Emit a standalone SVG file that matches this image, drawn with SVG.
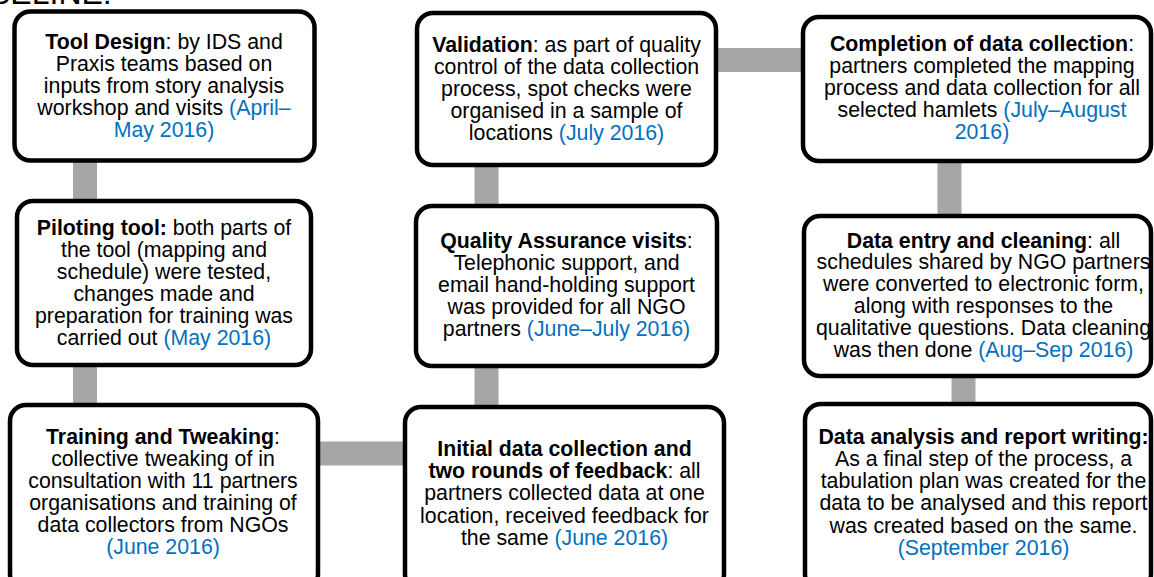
<svg xmlns="http://www.w3.org/2000/svg" width="1154" height="577" viewBox="0 0 1154 577">
<style>
.box{fill:#fff;stroke:#000;stroke-width:4.5}
.conn{stroke:#a6a6a6;stroke-width:24;fill:none}
text{font-family:"Liberation Sans",Arial,sans-serif;font-size:21.3px;fill:#000;text-anchor:middle}
.b{font-weight:bold}
.d{fill:#0070c0}
</style>
<rect width="1154" height="577" fill="#fff"/>
<text x="-11" y="4" style="font-size:32px;text-anchor:start">SELINE:</text>
<g id="connectors">
<line class="conn" x1="85" y1="160" x2="85" y2="202"/>
<line class="conn" x1="85" y1="364" x2="85" y2="406"/>
<line class="conn" x1="317" y1="453.5" x2="406" y2="453.5"/>
<line class="conn" x1="486.5" y1="164" x2="486.5" y2="408"/>
<line class="conn" x1="715" y1="60" x2="804" y2="60"/>
<line class="conn" x1="949.5" y1="160" x2="949.5" y2="217"/>
<line class="conn" x1="963.5" y1="375" x2="963.5" y2="405"/>
</g>
<g id="n1">
<rect class="box" x="14.5" y="11.5" width="300" height="149" rx="16"/>
<text x="164" y="49"><tspan class="b">Tool Design</tspan>: by IDS and<tspan x="164" dy="22">Praxis teams based on</tspan><tspan x="164" dy="22">inputs from story analysis</tspan><tspan x="164" dy="22">workshop and visits <tspan class="d">(April–</tspan></tspan><tspan x="164" dy="22" class="d">May 2016)</tspan></text>
</g>
<g id="n2">
<rect class="box" x="17" y="201" width="294" height="164" rx="16"/>
<text x="164" y="235"><tspan class="b">Piloting tool:</tspan> both parts of<tspan x="164" dy="22">the tool (mapping and</tspan><tspan x="164" dy="22">schedule) were tested,</tspan><tspan x="164" dy="22">changes made and</tspan><tspan x="164" dy="22">preparation for training was</tspan><tspan x="164" dy="22">carried out <tspan class="d">(May 2016)</tspan></tspan></text>
</g>
<g id="n3">
<rect class="box" x="10" y="405" width="308" height="185" rx="16"/>
<text x="163" y="444"><tspan class="b">Training and Tweaking</tspan>:<tspan x="163" dy="22">collective tweaking of in</tspan><tspan x="163" dy="22">consultation with 11 partners</tspan><tspan x="163" dy="22">organisations and training of</tspan><tspan x="163" dy="22">data collectors from NGOs</tspan><tspan x="163" dy="22" class="d">(June 2016)</tspan></text>
</g>
<g id="n4">
<rect class="box" x="417" y="13" width="299" height="152" rx="16"/>
<text x="566.5" y="51.5"><tspan class="b">Validation</tspan>: as part of quality<tspan x="566.5" dy="22">control of the data collection</tspan><tspan x="566.5" dy="22">process, spot checks were</tspan><tspan x="566.5" dy="22">organised in a sample of</tspan><tspan x="566.5" dy="22">locations <tspan class="d">(July 2016)</tspan></tspan></text>
</g>
<g id="n5">
<rect class="box" x="416" y="206" width="301" height="160" rx="16"/>
<text x="566.5" y="248"><tspan class="b">Quality Assurance visits</tspan>:<tspan x="566.5" dy="22">Telephonic support, and</tspan><tspan x="566.5" dy="22">email hand-holding support</tspan><tspan x="566.5" dy="22">was provided for all NGO</tspan><tspan x="566.5" dy="22">partners <tspan class="d">(June–July 2016)</tspan></tspan></text>
</g>
<g id="n6">
<rect class="box" x="405" y="407" width="319" height="183" rx="16"/>
<text x="564.5" y="456"><tspan class="b">Initial data collection and</tspan><tspan x="564.5" dy="22.2"><tspan class="b">two rounds of feedback</tspan>: all</tspan><tspan x="564.5" dy="22.2">partners collected data at one</tspan><tspan x="564.5" dy="22.2">location, received feedback for</tspan><tspan x="564.5" dy="22.2">the same <tspan class="d">(June 2016)</tspan></tspan></text>
</g>
<g id="n7">
<rect class="box" x="803" y="17" width="348" height="144" rx="16"/>
<text x="982" y="51"><tspan class="b">Completion of data collection</tspan>:<tspan x="982" dy="21.9">partners completed the mapping</tspan><tspan x="982" dy="21.9">process and data collection for all</tspan><tspan x="982" dy="21.9">selected hamlets <tspan class="d">(July–August</tspan></tspan><tspan x="982" dy="21.9" class="d">2016)</tspan></text>
</g>
<g id="n8">
<rect class="box" x="804" y="216" width="347" height="160" rx="16"/>
<text x="983.5" y="247.5"><tspan class="b">Data entry and cleaning</tspan>: all<tspan x="983.5" dy="21.9">schedules shared by NGO partners</tspan><tspan x="983.5" dy="21.9">were converted to electronic form,</tspan><tspan x="983.5" dy="21.9">along with responses to the</tspan><tspan x="983.5" dy="21.9">qualitative questions. Data cleaning</tspan><tspan x="983.5" dy="21.9">was then done <tspan class="d">(Aug–Sep 2016)</tspan></tspan></text>
</g>
<g id="n9">
<rect class="box" x="805" y="404" width="346" height="186" rx="16"/>
<text x="983.5" y="443.5"><tspan class="b">Data analysis and report writing:</tspan><tspan x="983.5" dy="22.3">As a final step of the process, a</tspan><tspan x="983.5" dy="22.3">tabulation plan was created for the</tspan><tspan x="983.5" dy="22.3">data to be analysed and this report</tspan><tspan x="983.5" dy="22.3">was created based on the same.</tspan><tspan x="983.5" dy="22.3" class="d">(September 2016)</tspan></text>
</g>
</svg>
